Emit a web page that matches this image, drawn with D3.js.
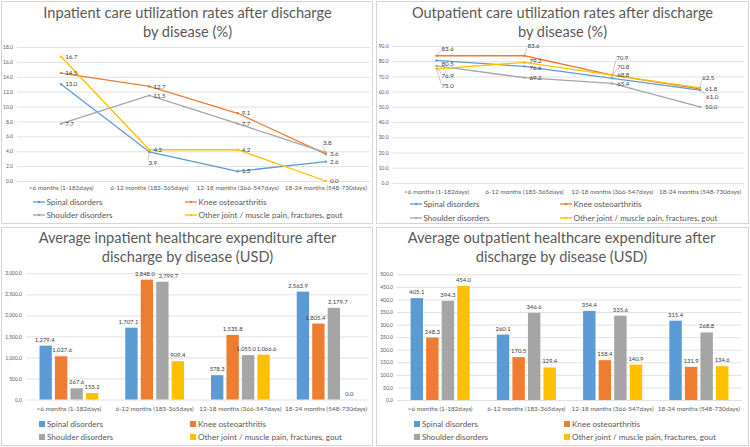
<!DOCTYPE html>
<html>
<head>
<meta charset="utf-8">
<script src="https://cdn.jsdelivr.net/npm/d3@7"></script>
<style>
  body { margin: 0; background: #fff; }
  svg { display: block; font-family: Lato, sans-serif; }
</style>
</head>
<body>
<svg width="750" height="447"></svg>
<script>

const categories = ['<6 months (1-182days)', '6-12 months (183-365days)',
                    '12-18 months (366-547days)', '18-24 months (548-730days)'];
const seriesNames = ['Spinal disorders', 'Knee osteoarthritis', 'Shoulder disorders',
                     'Other joint / muscle pain, fractures, gout'];
const colors = ['#5B9BD5', '#ED7D31', '#A5A5A5', '#FFC000'];

// inpatient care utilization rate (%)
const inSpinal   = [13.0, 3.9, 1.3, 2.6];
const inKnee     = [14.5, 12.7, 9.1, 3.6];
const inShoulder = [7.7, 11.5, 7.7, 3.8];
const inOther    = [16.7, 4.2, 4.2, 0.0];

// outpatient care utilization rate (%)
const outSpinal   = [80.5, 76.6, 68.8, 61.0];
const outKnee     = [83.6, 83.6, 70.9, 61.8];
const outShoulder = [76.9, 69.2, 65.4, 50.0];
const outOther    = [75.0, 79.2, 70.8, 62.5];

// average inpatient expenditure (USD)
const inExpSpinal   = [1279.4, 1707.1, 578.3, 2563.9];
const inExpKnee     = [1027.6, 2848.0, 1535.8, 1805.4];
const inExpShoulder = [267.6, 2799.7, 1055.0, 2179.7];
const inExpOther    = [153.2, 909.4, 1066.6, 0.0];

// average outpatient expenditure (USD)
const outExpSpinal   = [405.1, 260.1, 354.4, 315.4];
const outExpKnee     = [248.3, 170.5, 158.4, 131.9];
const outExpShoulder = [394.3, 346.6, 335.6, 268.8];
const outExpOther    = [454.0, 129.4, 140.9, 134.6];

// label nudges [dx, dy] per series / category (Excel moved some labels)
const inNudge = [
  [[4, 0], [-1, 11], [4, 0], [4, 0]],
  [[4, 0], [4, 0], [4, 0], [4, 0]],
  [[4, 0], [4, 0], [4, 0], [-3, -10]],
  [[4, 0], [4, 0], [4, 0], [4, 0]]
];
const outNudge = [
  [[5, 3], [5, 1], [5, -3], [6, 6.5]],
  [[5, -7], [3, -10], [4, -17], [5, 0]],
  [[5, 10], [5, 0], [5, 0], [5, 0]],
  [[5, 17], [5, -2], [5, -8.5], [2, -10]]
];
// horizontal nudges of the bar labels that were dragged apart
const inExpNudge = [
  [-1, -3, 0, -5],
  [1, -2, 0, -3],
  [0, 6, -2, 4],
  [0, 0, 3, 0]
];
const outExpNudge = [
  [0, 0, 0, 0],
  [0, 0, 0, 0],
  [0, 0, 0, 0],
  [0, 0, 0, 0]
];

const svg = d3.select('svg');

svg.append('rect').attr('width', 750).attr('height', 447).attr('fill', '#fff');

// panel frames
[[1, 1, 372, 223], [376, 1, 373, 223], [1, 227, 372, 219], [376, 227, 373, 219]]
  .forEach(function(p) {
    svg.append('rect')
       .attr('x', p[0] + 0.5).attr('y', p[1] + 0.5)
       .attr('width', p[2] - 1).attr('height', p[3] - 1)
       .attr('fill', '#fff')
       .attr('stroke', '#d4d4d4')
       .attr('stroke-width', 1);
  });

function drawTitle(lines, cx, y1) {
  lines.forEach(function(t, i) {
    svg.append('text')
       .attr('x', cx).attr('y', y1 + i * 19)
       .attr('dy', '0.35em')
       .attr('text-anchor', 'middle')
       .attr('font-size', 14.6)
       .attr('fill', '#595959')
       .text(t);
  });
}

function drawYAxis(yScale, x0, x1, ticks, fmt) {
  let yAxis = d3.axisLeft(yScale)
                .tickValues(ticks)
                .tickSize(-(x1 - x0))
                .tickPadding(4)
                .tickFormat(fmt);

  let g = svg.append('g')
             .attr('transform', 'translate(' + x0 + ',0)')
             .call(yAxis);
  g.select('.domain').remove();
  g.selectAll('line').attr('stroke', '#d9d9d9').attr('stroke-width', 0.8);
  g.selectAll('text').attr('font-size', 5).attr('fill', '#595959')
   .attr('font-family', 'Lato, sans-serif');
}

function drawCategoryLabels(xPos, y) {
  categories.forEach(function(c) {
    svg.append('text')
       .attr('x', xPos(c)).attr('y', y)
       .attr('dy', '0.35em')
       .attr('text-anchor', 'middle')
       .attr('font-size', 6.4)
       .attr('fill', '#595959')
       .text(c);
  });
}

function drawLegend(cols, rows, kind) {
  seriesNames.forEach(function(name, i) {
    let cx = cols[i % 2], cy = rows[Math.floor(i / 2)];
    if (kind == 'line') {
      svg.append('line')
         .attr('x1', cx).attr('x2', cx + 12)
         .attr('y1', cy).attr('y2', cy)
         .attr('stroke', colors[i]).attr('stroke-width', 1.3);
      svg.append('circle')
         .attr('cx', cx + 6).attr('cy', cy).attr('r', 1.2)
         .attr('fill', colors[i]);
      svg.append('text')
         .attr('x', cx + 13.5).attr('y', cy).attr('dy', '0.35em')
         .attr('font-size', 8.1).attr('fill', '#595959')
         .text(name);
    } else {
      svg.append('rect')
         .attr('x', cx).attr('y', cy - 3)
         .attr('width', 6).attr('height', 6)
         .attr('fill', colors[i]);
      svg.append('text')
         .attr('x', cx + 8).attr('y', cy).attr('dy', '0.35em')
         .attr('font-size', 8.1).attr('fill', '#595959')
         .text(name);
    }
  });
}

function lineChart(o) {
  let xScale = d3.scalePoint().domain(categories).range([o.x0, o.x1]).padding(0.5);
  let yScale = d3.scaleLinear().domain(o.yDomain).range([o.yBottom, o.yTop]);

  drawTitle(o.title, o.titleX, o.titleY);
  drawYAxis(yScale, o.x0, o.x1, d3.range(o.yDomain[0], o.yDomain[1] + o.step / 2, o.step), d3.format('.1f'));
  drawCategoryLabels(xScale, o.catY);

  let line = d3.line()
               .x(function(d, i) { return xScale(categories[i]); })
               .y(function(d) { return yScale(d); });

  o.series.forEach(function(vals, s) {
    svg.append('path')
       .attr('d', line(vals))
       .attr('fill', 'none')
       .attr('stroke', colors[s])
       .attr('stroke-width', 1.3);

    svg.selectAll(null)
       .data(vals)
       .enter()
       .append('circle')
       .attr('cx', function(d, i) { return xScale(categories[i]); })
       .attr('cy', function(d) { return yScale(d); })
       .attr('r', 1.2)
       .attr('fill', colors[s]);
  });

  // data labels, with leader lines where moved away
  o.series.forEach(function(vals, s) {
    vals.forEach(function(v, i) {
      let px = xScale(categories[i]), py = yScale(v);
      let nd = o.nudge[s][i];
      let lx = px + nd[0], ly = py + nd[1];
      if (Math.abs(nd[1]) > 5) {
        let ey = nd[1] > 0 ? ly - 2.5 : ly + 2.5;
        svg.append('path')
           .attr('d', 'M' + px + ',' + py + 'L' + (lx - 0.5) + ',' + ey)
           .attr('stroke', '#a6a6a6').attr('stroke-width', 0.6).attr('fill', 'none');
      }
      svg.append('text')
         .attr('x', lx).attr('y', ly).attr('dy', '0.35em')
         .attr('font-size', 6.2).attr('fill', '#404040')
         .text(d3.format('.1f')(v));
    });
  });

  drawLegend(o.legendX, o.legendY, 'line');
}

function barChart(o) {
  let xScale = d3.scaleBand().domain(categories).range([o.x0, o.x1])
                 .paddingInner(0.315).paddingOuter(0.1575);
  let xInner = d3.scaleBand().domain(d3.range(4)).range([0, xScale.bandwidth()])
                 .paddingInner(0.2);
  let yScale = d3.scaleLinear().domain(o.yDomain).range([o.yBottom, o.yTop]);

  drawTitle(o.title, o.titleX, o.titleY);
  drawYAxis(yScale, o.x0, o.x1, d3.range(o.yDomain[0], o.yDomain[1] + o.step / 2, o.step), d3.format(',.1f'));
  drawCategoryLabels(function(c) { return xScale(c) + xScale.bandwidth() / 2; }, o.catY);

  o.series.forEach(function(vals, s) {
    let g = svg.append('g');
    g.selectAll('rect')
     .data(vals)
     .enter()
     .append('rect')
     .attr('x', function(d, i) { return xScale(categories[i]) + xInner(s); })
     .attr('y', function(d) { return yScale(d); })
     .attr('width', xInner.bandwidth())
     .attr('height', function(d) { return yScale(0) - yScale(d); })
     .attr('fill', colors[s]);

    g.selectAll('text')
     .data(vals)
     .enter()
     .append('text')
     .attr('x', function(d, i) {
       return xScale(categories[i]) + xInner(s) + xInner.bandwidth() / 2 + o.nudge[s][i];
     })
     .attr('y', function(d) { return yScale(d) - 4; })
     .attr('text-anchor', 'middle')
     .attr('font-size', 5.9)
     .attr('fill', '#404040')
     .text(function(d) { return d3.format(',.1f')(d); });
  });

  drawLegend(o.legendX, o.legendY, 'bar');
}

lineChart({
  title: ['Inpatient care utilization rates after discharge', 'by disease (%)'],
  titleX: 187.5, titleY: 13,
  series: [inSpinal, inKnee, inShoulder, inOther],
  nudge: inNudge,
  x0: 17, x1: 370, yTop: 47, yBottom: 181,
  yDomain: [0, 18], step: 2,
  catY: 188,
  legendX: [33, 185], legendY: [202, 215]
});

lineChart({
  title: ['Outpatient care utilization rates after discharge', 'by disease (%)'],
  titleX: 562.5, titleY: 13,
  series: [outSpinal, outKnee, outShoulder, outOther],
  nudge: outNudge,
  x0: 392.6, x1: 744, yTop: 46, yBottom: 183,
  yDomain: [0, 90], step: 10,
  catY: 191.5,
  legendX: [410, 560], legendY: [204, 218]
});

barChart({
  title: ['Average inpatient healthcare expenditure after', 'discharge by disease (USD)'],
  titleX: 187.5, titleY: 238,
  series: [inExpSpinal, inExpKnee, inExpShoulder, inExpOther],
  nudge: inExpNudge,
  x0: 26, x1: 369, yTop: 273.3, yBottom: 399.5,
  yDomain: [0, 3000], step: 500,
  catY: 408.3,
  legendX: [39, 190], legendY: [424, 437]
});

barChart({
  title: ['Average outpatient healthcare expenditure after', 'discharge by disease (USD)'],
  titleX: 561.5, titleY: 238,
  series: [outExpSpinal, outExpKnee, outExpShoulder, outExpOther],
  nudge: outExpNudge,
  x0: 397, x1: 742, yTop: 274.3, yBottom: 400,
  yDomain: [0, 500], step: 50,
  catY: 408.3,
  legendX: [414, 564], legendY: [424, 437]
});

</script>
</body>
</html>
